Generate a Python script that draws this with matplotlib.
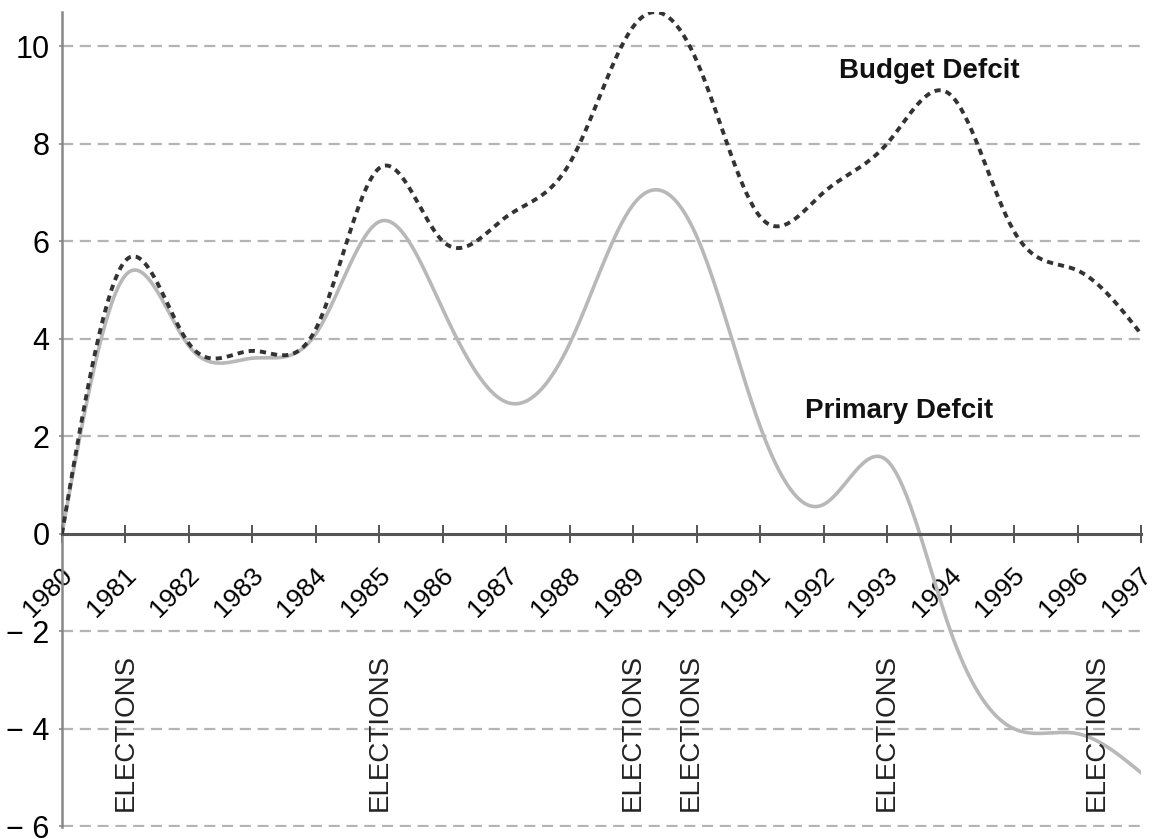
import matplotlib
matplotlib.use("Agg")
import matplotlib.pyplot as plt
from matplotlib.transforms import ScaledTranslation
import numpy as np

years = list(range(1980, 1998))
budget = [0.0, 5.6, 3.9, 3.75, 4.2, 7.5, 6.0, 6.5, 7.6, 10.4, 9.7, 6.5, 7.0, 8.0, 9.0, 6.2, 5.4, 4.1]
primary = [0.0, 5.3, 3.85, 3.6, 4.1, 6.4, 4.6, 2.7, 3.9, 6.75, 6.1, 2.2, 0.6, 1.5, -2.0, -4.0, -4.1, -4.9]
elections = [1981, 1985, 1989, 1989.9, 1993, 1996.3]
yticks = [-6, -4, -2, 0, 2, 4, 6, 8, 10]
ytick_labels = ["\u2212 6", "\u2212 4", "\u2212 2", "0", "2", "4", "6", "8", "10"]


def spline(x, y, n=600):
    # natural cubic spline, drawn smooth like the original plot
    x = np.asarray(x, float)
    y = np.asarray(y, float)
    m = len(x)
    h = np.diff(x)
    A = np.zeros((m, m))
    b = np.zeros(m)
    A[0, 0] = A[-1, -1] = 1
    for i in range(1, m - 1):
        A[i, i - 1] = h[i - 1]
        A[i, i] = 2 * (h[i - 1] + h[i])
        A[i, i + 1] = h[i]
        b[i] = 3 * ((y[i + 1] - y[i]) / h[i] - (y[i] - y[i - 1]) / h[i - 1])
    c = np.linalg.solve(A, b)
    xs = np.linspace(x[0], x[-1], n)
    idx = np.clip(np.searchsorted(x, xs) - 1, 0, m - 2)
    dx = xs - x[idx]
    hi = h[idx]
    bb = (y[idx + 1] - y[idx]) / hi - hi * (2 * c[idx] + c[idx + 1]) / 3
    dd = (c[idx + 1] - c[idx]) / (3 * hi)
    return xs, y[idx] + bb * dx + c[idx] * dx ** 2 + dd * dx ** 3


plt.rcParams["font.family"] = ["Liberation Sans", "DejaVu Sans"]

fig = plt.figure(figsize=(11.56, 8.39), dpi=100)
ax = fig.add_axes([0.0536, 0.014, 0.9334, 0.9717])

# spine position first: moving it later resets the tick labels
ax.spines["top"].set_visible(False)
ax.spines["right"].set_visible(False)
ax.spines["bottom"].set_position(("data", 0))
ax.spines["bottom"].set_color("#555555")
ax.spines["bottom"].set_linewidth(2.2)
ax.spines["left"].set_color("#888888")
ax.spines["left"].set_linewidth(1.8)

for yv in yticks:
    if yv != 0:
        ax.axhline(yv, color="#b4b4b4", lw=1.6, ls=(0, (5, 3)), zorder=0)

bx, by = spline(years, budget)
px, py = spline(years, primary)
ax.plot(px, py, color="#b8b8b8", lw=2.6, zorder=2)
ax.plot(bx, by, color="#333333", lw=2.8, ls=(0, (1.6, 1.3)), zorder=3)

ax.text(1992.25, 9.5, "Budget Defcit", fontsize=20, fontweight="bold",
        ha="left", va="center", color="#111111")
ax.text(1991.7, 2.52, "Primary Defcit", fontsize=20, fontweight="bold",
        ha="left", va="center", color="#111111")

for e in elections:
    ax.text(e, -4.08, "ELECTIONS", rotation=90, fontsize=20, ha="center",
            va="center", color="#222222")

ax.set_xlim(1980, 1997)
ax.set_ylim(-6.02, 10.7)
ax.set_xticks(years)
ax.set_xticklabels([str(y) for y in years], rotation=45, ha="right",
                   va="center", rotation_mode="anchor", fontsize=19)
ax.set_yticks(yticks)
ax.set_yticklabels(ytick_labels, fontsize=22)
ax.tick_params(axis="x", direction="inout", length=13, width=1.4,
               color="#555555", pad=9)
ax.tick_params(axis="y", direction="out", length=2, width=1.2,
               color="#888888", pad=7)

# year labels sit a bit right of and below their ticks
shift = ScaledTranslation(5 / 72, -12 / 72, fig.dpi_scale_trans)
for lab in ax.get_xticklabels():
    lab.set_transform(lab.get_transform() + shift)

fig.savefig("out.png", dpi=100)
